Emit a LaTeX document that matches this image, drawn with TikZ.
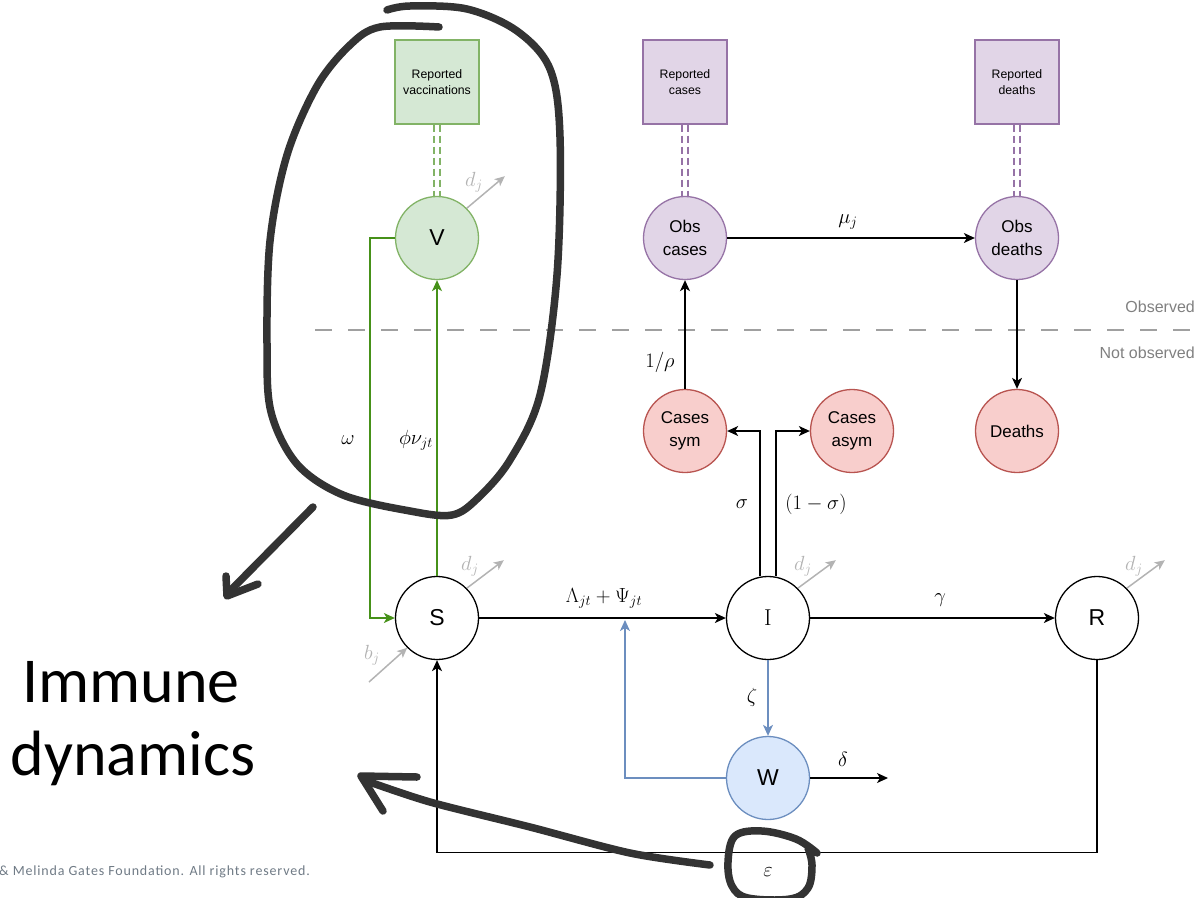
\RequirePackage{fix-cm}
\documentclass[tikz,border=0pt]{standalone}
\usepackage{fontspec}
\usetikzlibrary{arrows.meta}
\newfontfamily\helv{Liberation Sans}
\newfontfamily\calib{Carlito}
\newfontfamily\calibsp[LetterSpace=6]{Carlito}
\definecolor{vgreen}{HTML}{82B366}
\definecolor{vgreenfill}{HTML}{D5E8D4}
\definecolor{gflowc}{RGB}{70,145,25}
\definecolor{purpled}{HTML}{9673A6}
\definecolor{purplef}{HTML}{E1D5E7}
\definecolor{redd}{HTML}{B85450}
\definecolor{redf}{HTML}{F8CECC}
\definecolor{blued}{HTML}{6C8EBF}
\definecolor{bluef}{HTML}{DAE8FC}
\definecolor{lightg}{HTML}{B3B3B3}
\definecolor{divg}{HTML}{A0A0A0}
\definecolor{obsg}{HTML}{808080}
\definecolor{pen}{HTML}{333333}
\definecolor{footg}{HTML}{6F7A85}
\begin{document}
\begin{tikzpicture}[x=1pt,y=-1pt,
  comp/.style={circle, draw=black, line width=1.3pt, minimum size=83pt, inner sep=0pt,
    align=center, font=\helv\fontsize{17}{23}\selectfont},
  single/.style={font=\helv\fontsize{23}{26}\selectfont},
  vac/.style={comp, draw=vgreen, fill=vgreenfill},
  obsn/.style={comp, draw=purpled, fill=purplef},
  cas/.style={comp, draw=redd, fill=redf},
  wat/.style={comp, draw=blued, fill=bluef},
  repbox/.style={rectangle, line width=1.3pt, minimum size=84pt, inner sep=0pt,
    align=center, font=\helv\fontsize{12.3}{16}\selectfont},
  repv/.style={repbox, draw=vgreen, fill=vgreenfill},
  repp/.style={repbox, draw=purpled, fill=purplef},
  tip/.style={-{Stealth[length=11pt,width=10pt,inset=3pt]}},
  flow/.style={tip, line width=1.3pt, draw=black},
  gflow/.style={flow, draw=gflowc},
  bflow/.style={flow, draw=blued},
  grayarr/.style={-{Stealth[length=10pt,width=9pt,inset=2.5pt]}, line width=1.5pt, draw=lightg},
  linkdash/.style={line width=1.2pt, dash pattern=on 7pt off 4pt},
  divider/.style={line width=1.8pt, draw=divg, dash pattern=on 17pt off 16pt},
  lab/.style={inner sep=0pt, font=\fontsize{20.5}{23}\selectfont},
  glab/.style={lab, text=lightg},
  obstxt/.style={inner sep=0pt, anchor=east, text=obsg, font=\helv\fontsize{16}{18}\selectfont},
  hand/.style={draw=pen, line width=7.5pt, line cap=round, line join=round},
  bigtxt/.style={inner sep=0pt, anchor=base, font=\calib\fontsize{64}{76}\selectfont},
]
\useasboundingbox (0,0) rectangle (1201,897);

% compartments
\node[vac, single]  (V)  at (437,238) {V};
\node[comp, single] (S)  at (437,618) {S};
\node[comp, font=\rmfamily\fontsize{23}{26}\selectfont] (I) at (768,618) {I};
\node[comp, single] (R)  at (1097,618) {R};
\node[wat, single]  (W)  at (768,778) {W};
\node[cas]  (CS) at (685,431) {Cases\\sym};
\node[cas]  (CA) at (852,431) {Cases\\asym};
\node[cas]  (D)  at (1017,431) {Deaths};
\node[obsn] (OC) at (685,238) {Obs\\cases};
\node[obsn] (OD) at (1017,238) {Obs\\deaths};

% reported data
\node[repv] (RV) at (437,82) {Reported\\vaccinations};
\node[repp] (RC) at (685,82) {Reported\\cases};
\node[repp] (RD) at (1017,82) {Reported\\deaths};

% links between data and observed states
\foreach \a/\b/\c in {RV/V/vgreen, RC/OC/purpled, RD/OD/purpled}{
  \draw[linkdash, draw=\c] ([xshift=-3pt]\a.south) -- ([xshift=-3pt]\b.north);
  \draw[linkdash, draw=\c] ([xshift=3pt]\a.south) -- ([xshift=3pt]\b.north);
}

% observed / not observed divider
\coordinate (divL) at (315,330);
\coordinate (divR) at (1195,330);
\draw[divider] (divL) -- (divR);
\node[obstxt] (obsA) at (1195,307) {Observed};
\node[obstxt] (obsB) at (1195,353) {Not observed};

% vaccination flows
\draw[gflow] (V.west) -- ++(-25,0) |- (S.west);
\draw[gflow] (S.north) -- (V.south);
\node[lab] (lomega) at (348,440) {$\omega$};
\node[lab] (lphi) at (416,440) {$\phi\nu_{jt}$};

% main flows
\draw[flow] (S.east) -- (I.west);
\node[lab] (linf) at (604,598) {$\Lambda_{jt}+\Psi_{jt}$};
\draw[flow] (I.east) -- (R.west);
\node[lab] (lgam) at (940,600) {$\gamma$};
\draw[flow] (R.south) -- ++(0,192) -| (S.south);
\node[lab] (leps) at (768,872) {$\varepsilon$};

% symptomatic split
\draw[flow] ([xshift=-8pt]I.north) |- (CS.east);
\draw[flow] ([xshift=8pt]I.north) |- (CA.west);
\node[lab] (lsig) at (742,504) {$\sigma$};
\node[lab] (lsig2) at (816,504) {$(1-\sigma)$};
\draw[flow] (CS.north) -- (OC.south);
\node[lab] (lrho) at (660,362) {$1/\rho$};
\draw[flow] (OC.east) -- (OD.west);
\node[lab] (lmu) at (848,222) {$\mu_j$};
\draw[flow] (OD.south) -- (D.north);

% waning / environmental branch
\draw[bflow] (I.south) -- (W.north);
\node[lab] (lzeta) at (752,697) {$\zeta$};
\coordinate (wIn) at (625,620);
\draw[bflow] (W.west) -| (wIn);
\coordinate (wOut) at (888,778);
\draw[flow] (W.east) -- (wOut);
\node[lab] (ldel) at (843,759) {$\delta$};

% births and deaths
\foreach \n/\dx/\dy in {V/38/-32, S/37/-28, I/38/-28, R/38/-28}{
  \draw[grayarr] (\n.45) -- ++(\dx,\dy);
}
\node[glab] (dV) at (474,182) {$d_j$};
\node[glab] (dS) at (470,566) {$d_j$};
\node[glab] (dI) at (803,566) {$d_j$};
\node[glab] (dR) at (1134,566) {$d_j$};
\coordinate (bIn) at (369,682);
\draw[grayarr] (bIn) -- (S.225);
\node[glab] (bS) at (372,655) {$b_j$};

% hand-drawn annotations
\draw[hand] plot[smooth, tension=0.55] coordinates {
  (439,27) (380,27) (350,45) (317,86) (287,155) (270,241) (267,344) (271,412)
  (297,464) (343,495) (410,511) (452,515) (478,498) (510,460) (540,395)
  (557,275) (560,137) (550,69) (517,31) (467,9) (410,6) (387,10)};
\draw[hand] (313,507) -- (227,594);
\draw[hand] (226,576) -- (227,596) -- (258,584);
\draw[hand] plot[smooth, tension=0.5] coordinates {
  (710,865) (630,853) (530,827) (430,802) (364,780)};
\draw[hand] (417,777) -- (361,776) -- (383,811);
\draw[hand] plot[smooth, tension=0.6] coordinates {
  (817,853) (796,839) (762,831) (735,836) (728,862) (732,886) (748,898)
  (790,899) (808,888) (812,865) (808,848)};

\node[bigtxt] (imm1) at (131,702) {Immune};
\node[bigtxt] (imm2) at (133,775) {dynamics};
\node[inner sep=0pt, anchor=west, text=footg, font=\calibsp\fontsize{14}{16}\selectfont]
  (foot) at (-1,872) {\& Melinda Gates Foundation. All rights reserved.};
\end{tikzpicture}
\end{document}
